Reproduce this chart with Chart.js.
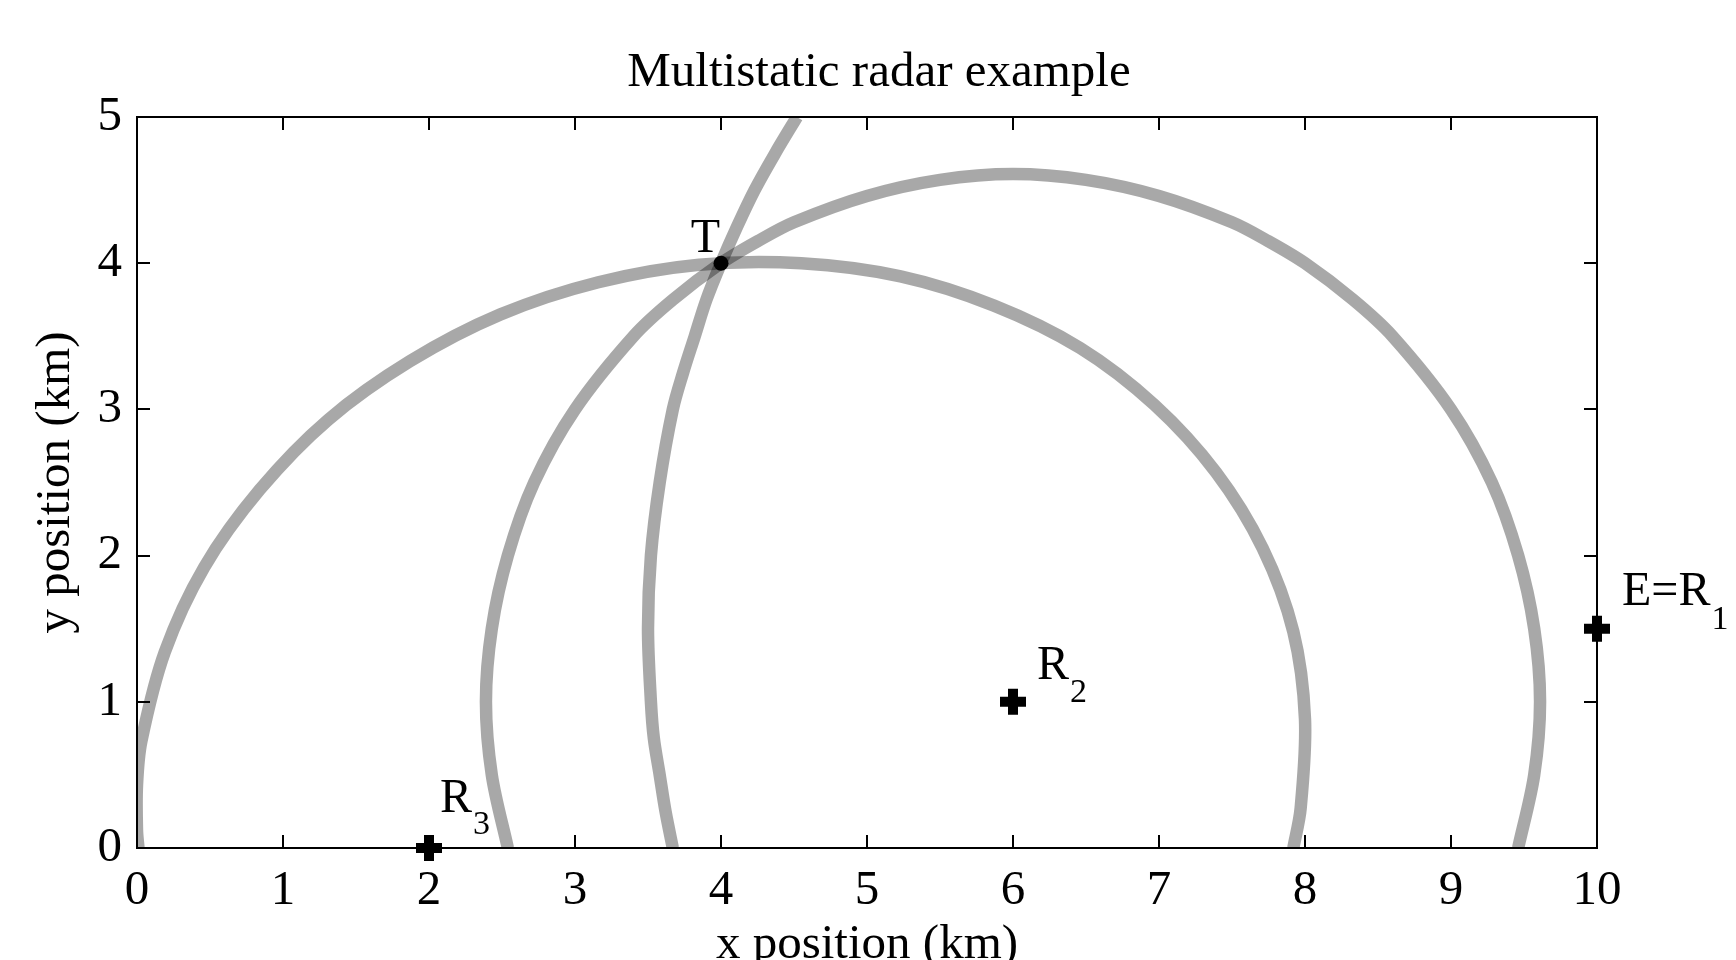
<!DOCTYPE html>
<html>
<head>
<meta charset="utf-8">
<script src="https://cdn.jsdelivr.net/npm/chart.js@4.4.1/dist/chart.umd.min.js"></script>
<style>
html,body{margin:0;padding:0;background:#fff;}
#wrap{width:1736px;height:960px;position:relative;}
canvas{display:block;}
</style>
</head>
<body>
<div id="wrap"><canvas id="c" width="1736" height="960"></canvas></div>
<script>
// ---------- data ----------
const titleText = 'Multistatic radar example';
const xAxisLabel = 'x position (km)';
const yAxisLabel = 'y position (km)';
const xTicks = [0, 1, 2, 3, 4, 5, 6, 7, 8, 9, 10];
const yTicks = [0, 1, 2, 3, 4, 5];

// range curve of the monostatic pair E=R1
const curveE_x = [3.67, 3.62, 3.58, 3.54, 3.52, 3.50, 3.52, 3.58, 3.67, 3.74, 3.82, 3.90, 4.00, 4.11, 4.23, 4.37, 4.52];
const curveE_y = [0.00, 0.25, 0.50, 0.75, 1.00, 1.50, 2.00, 2.50, 3.00, 3.25, 3.50, 3.75, 4.00, 4.25, 4.50, 4.75, 5.00];

// range curve of receiver R2
const curveR2_x = [2.54, 2.43, 2.39, 2.43, 2.54, 2.72, 3.00, 3.40, 3.67, 4.00, 4.25, 4.50, 5.00, 5.50, 6.00, 6.50, 7.00, 7.50, 7.75, 8.00, 8.33, 8.60, 9.00, 9.28, 9.46, 9.57, 9.61, 9.57, 9.46];
const curveR2_y = [0.00, 0.50, 1.00, 1.50, 2.00, 2.50, 3.00, 3.50, 3.75, 4.00, 4.15, 4.28, 4.46, 4.57, 4.61, 4.57, 4.46, 4.28, 4.15, 4.00, 3.75, 3.50, 3.00, 2.50, 2.00, 1.50, 1.00, 0.50, 0.00];

// range curve of receiver R3
const curveR3_x = [0.01, 0.00, 0.00, 0.03, 0.19, 0.46, 0.84, 1.31, 1.87, 2.49, 3.16, 3.85, 4.55, 5.23, 5.87, 6.46, 6.97, 7.39, 7.71, 7.92, 8.00, 7.97, 7.92];
const curveR3_y = [0.00, 0.12, 0.43, 0.73, 1.34, 1.92, 2.45, 2.93, 3.33, 3.65, 3.87, 3.99, 4.00, 3.91, 3.71, 3.42, 3.03, 2.57, 2.05, 1.48, 0.88, 0.27, 0.00];

// sensors
const sensorX = [2, 6, 10];
const sensorY = [0, 1, 1.5];
const sensorName = ['R', 'R', 'E=R'];
const sensorSub = ['3', '2', '1'];

// target
const targetX = [4];
const targetY = [4];
const targetName = ['T'];

// ---------- chart ----------
const FONT = "'Liberation Serif', 'Times New Roman', serif";
Chart.defaults.font.family = FONT;
Chart.defaults.color = '#000';

function pts(xs, ys) { return xs.map((v, i) => ({ x: v, y: ys[i] })); }

const curveStyle = {
  type: 'line',
  showLine: true,
  fill: false,
  borderColor: 'rgba(0,0,0,0.34)',
  borderWidth: 12.5,
  borderCapStyle: 'butt',
  borderJoinStyle: 'round',
  pointRadius: 0,
  pointHoverRadius: 0,
  tension: 0.33,
  capBezierPoints: false,
  order: 5
};

const frame = {
  id: 'frame',
  afterDatasetsDraw(chart) {
    const { ctx, chartArea: a, scales } = chart;
    const sx = scales.x, sy = scales.y;
    ctx.save();
    ctx.strokeStyle = '#000';
    ctx.lineWidth = 2;
    ctx.strokeRect(a.left, a.top, a.right - a.left, a.bottom - a.top);
    const tl = 13;
    ctx.beginPath();
    xTicks.forEach(v => {
      const p = Math.round(sx.getPixelForValue(v));
      ctx.moveTo(p, a.bottom); ctx.lineTo(p, a.bottom - tl);
      ctx.moveTo(p, a.top); ctx.lineTo(p, a.top + tl);
    });
    yTicks.forEach(v => {
      const p = Math.round(sy.getPixelForValue(v));
      ctx.moveTo(a.left, p); ctx.lineTo(a.left + tl, p);
      ctx.moveTo(a.right, p); ctx.lineTo(a.right - tl, p);
    });
    ctx.stroke();
    ctx.restore();
  },
  afterDraw(chart) {
    const { ctx, chartArea: a, scales } = chart;
    const sx = scales.x, sy = scales.y;
    ctx.save();
    ctx.fillStyle = '#000';
    ctx.textBaseline = 'alphabetic';
    // title
    ctx.font = '49px ' + FONT;
    ctx.textAlign = 'center';
    ctx.fillText(titleText, (a.left + a.right) / 2 + 12, 86);
    // label offsets (px) for the sensors: [dx, dy, subDy]
    const off = [[11, -36, 22], [24, -23, 23], [25, -24, 24]];
    sensorX.forEach((v, i) => {
      const px = sx.getPixelForValue(v), py = sy.getPixelForValue(sensorY[i]);
      ctx.font = '48px ' + FONT;
      ctx.textAlign = 'left';
      const x0 = px + off[i][0], y0 = py + off[i][1];
      ctx.fillText(sensorName[i], x0, y0);
      const w = ctx.measureText(sensorName[i]).width;
      ctx.font = '34px ' + FONT;
      ctx.fillText(sensorSub[i], x0 + w + 1, y0 + off[i][2]);
    });
    targetX.forEach((v, i) => {
      const px = sx.getPixelForValue(v), py = sy.getPixelForValue(targetY[i]);
      ctx.font = '48px ' + FONT;
      ctx.textAlign = 'right';
      ctx.fillText(targetName[i], px - 1, py - 11);
    });
    ctx.restore();
  }
};

new Chart(document.getElementById('c'), {
  type: 'scatter',
  data: {
    datasets: [
      { type: 'scatter', label: 'target', data: pts(targetX, targetY), showLine: false, pointStyle: 'circle', pointRadius: 7.5, pointHoverRadius: 7.5,
        pointBackgroundColor: '#000', pointBorderColor: '#000', pointBorderWidth: 0, clip: false, order: 0 },
      { type: 'scatter', label: 'sensors', data: pts(sensorX, sensorY), showLine: false, pointStyle: 'cross', pointRadius: 13, pointHoverRadius: 13,
        pointBorderColor: '#000', pointBorderWidth: 10, pointBackgroundColor: '#000', clip: false, order: 1 },
      Object.assign({ label: 'E=R1', data: pts(curveE_x, curveE_y) }, curveStyle),
      Object.assign({ label: 'R2', data: pts(curveR2_x, curveR2_y) }, curveStyle),
      Object.assign({ label: 'R3', data: pts(curveR3_x, curveR3_y) }, curveStyle)
    ]
  },
  options: {
    responsive: false,
    animation: false,
    devicePixelRatio: 1,
    layout: { padding: { left: 0, top: 117, right: 139, bottom: 0 } },
    plugins: {
      legend: { display: false },
      tooltip: { enabled: false },
      title: { display: false }
    },
    scales: {
      x: {
        type: 'linear', min: 0, max: 10,
        afterBuildTicks: s => { s.ticks = xTicks.map(v => ({ value: v })); },
        afterFit: s => { s.height = 112; },
        grid: { display: false, drawTicks: false },
        border: { display: false },
        ticks: { autoSkip: false, maxRotation: 0, padding: 14, color: '#000', font: { size: 49, lineHeight: 1.2 } },
        title: { display: true, text: xAxisLabel, color: '#000', font: { size: 49, lineHeight: 0.6 }, padding: { top: 0, bottom: 0 } }
      },
      y: {
        type: 'linear', min: 0, max: 5,
        afterBuildTicks: s => { s.ticks = yTicks.map(v => ({ value: v })); },
        afterFit: s => { s.width = 137; },
        grid: { display: false, drawTicks: false },
        border: { display: false },
        ticks: { autoSkip: false, padding: 15, color: '#000', font: { size: 49, lineHeight: 1.2 } },
        title: { display: true, text: yAxisLabel, color: '#000', font: { size: 49, lineHeight: 1.2 }, padding: { top: 27, bottom: 0 } }
      }
    }
  },
  plugins: [frame]
});
</script>
</body>
</html>
